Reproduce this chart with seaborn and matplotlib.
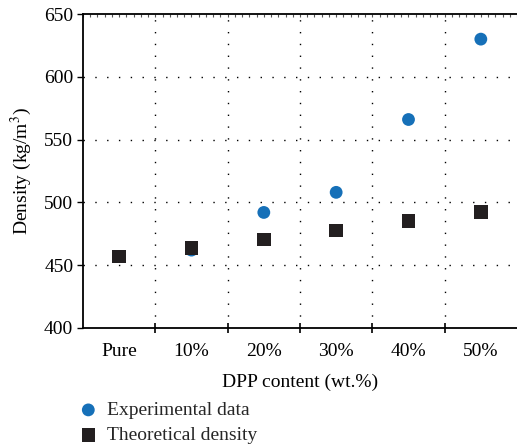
import matplotlib
matplotlib.use("Agg")
import matplotlib.pyplot as plt
import seaborn as sns
import pandas as pd
from matplotlib.ticker import MultipleLocator, FixedLocator

categories = ["Pure", "10%", "20%", "30%", "40%", "50%"]
experimental = [457, 462, 492, 508, 566, 630]
theoretical = [457, 463.5, 470.5, 477.5, 485, 492.5]

df = pd.DataFrame({"content": categories,
                   "experimental": experimental,
                   "theoretical": theoretical})

sns.set_theme(style="white")
plt.rcParams["font.family"] = ["Liberation Serif", "DejaVu Serif"]
plt.rcParams["mathtext.fontset"] = "stix"

FS = 14

fig = plt.figure(figsize=(5.17, 4.45), dpi=100)
ax = fig.add_axes([0.1605, 0.263, 0.8395, 0.7055])

sns.scatterplot(data=df, x="content", y="experimental", ax=ax,
                color="#1670b8", marker="o", s=85, edgecolor="none",
                label="Experimental data", zorder=3)
sns.scatterplot(data=df, x="content", y="theoretical", ax=ax,
                color="#231f20", marker="s", s=95, edgecolor="none",
                label="Theoretical density", zorder=4)

ax.set_xlim(-0.5, 5.5)
ax.set_ylim(400, 650)
ax.yaxis.set_major_locator(MultipleLocator(50))

# category labels centred, tick marks on the boundaries
ax.set_xticks(range(len(categories)))
ax.set_xticklabels(categories)
ax.xaxis.set_minor_locator(FixedLocator([i + 0.5 for i in range(len(categories) - 1)]))
ax.tick_params(axis="x", which="major", length=0, labelsize=FS, pad=11, colors="black")
ax.tick_params(axis="x", which="minor", length=7, width=1.2, direction="inout",
               bottom=True, color="black")
ax.tick_params(axis="y", which="major", length=4, width=1, direction="out",
               left=True, labelsize=FS, colors="black", pad=3)

# dotted grid
dot = (0, (1, 7.5))
for xv in [i + 0.5 for i in range(len(categories) - 1)]:
    ax.axvline(xv, color="black", lw=1, ls=dot, zorder=1)
for yv in [450, 500, 550, 600]:
    ax.axhline(yv, color="black", lw=1, ls=dot, zorder=1)

for side in ["left", "bottom", "top"]:
    ax.spines[side].set_color("black")
    ax.spines[side].set_linewidth(1.3)
ax.spines["right"].set_visible(False)

# fine ticks along the top edge
top = ax.secondary_xaxis("top")
top.xaxis.set_major_locator(FixedLocator([]))
top.xaxis.set_minor_locator(MultipleLocator(0.1))
top.tick_params(which="minor", direction="in", length=2.5, width=0.8, color="#555555")
top.spines["top"].set_visible(False)

ax.set_xlabel("DPP content (wt.%)", fontsize=FS, labelpad=10, color="black")
ax.set_ylabel("Density (kg/m$^3$)", fontsize=FS, labelpad=7, color="black")

handles, labels = ax.get_legend_handles_labels()
ax.get_legend().remove()
fig.legend(handles, labels, loc="upper left", bbox_to_anchor=(0.152, 0.098),
           frameon=False, fontsize=FS, handlelength=1.0, handletextpad=0.45,
           labelspacing=0.38, borderpad=0, borderaxespad=0)

fig.savefig("out.png", dpi=100)
